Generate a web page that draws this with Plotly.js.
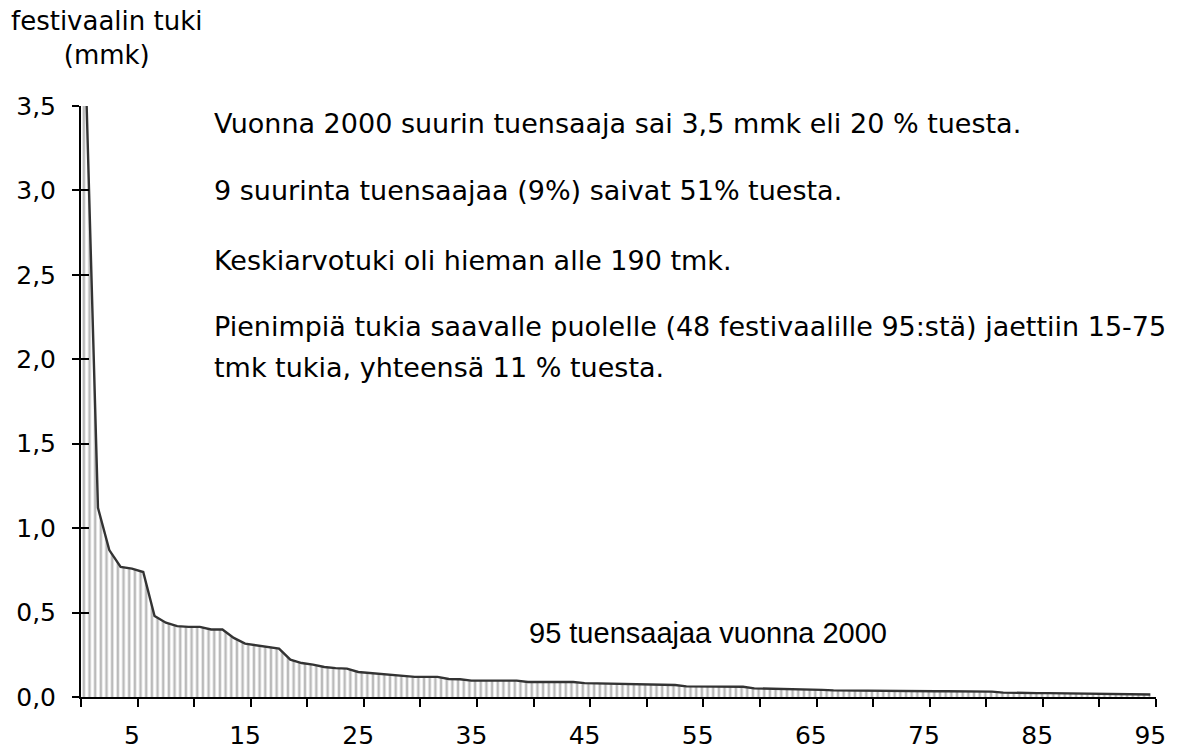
<!DOCTYPE html>
<html>
<head>
<meta charset="utf-8">
<script src="https://cdn.plot.ly/plotly-3.0.1.min.js"></script>
<style>html,body{margin:0;padding:0;background:#fff;}#chart{width:1183px;height:753px;}</style>
</head>
<body>
<div id="chart"></div>
<script>
// festival support in million marks (mmk), ranked 1..95, year 2000
const support = [
  3.50, 1.12, 0.87, 0.77, 0.76, 0.74, 0.48, 0.44, 0.42, 0.415,
  0.415, 0.40, 0.40, 0.35, 0.316, 0.306, 0.296, 0.287, 0.221, 0.201,
  0.192, 0.178, 0.171, 0.168, 0.148, 0.142, 0.139, 0.129, 0.127, 0.119,
  0.119, 0.119, 0.107, 0.105, 0.097, 0.097, 0.097, 0.097, 0.097, 0.089,
  0.089, 0.089, 0.089, 0.089, 0.082, 0.081, 0.080, 0.077, 0.075, 0.074,
  0.073, 0.072, 0.071, 0.063, 0.062, 0.062, 0.061, 0.061, 0.061, 0.051,
  0.050, 0.049, 0.048, 0.047, 0.045, 0.042, 0.039, 0.038, 0.037, 0.037,
  0.036, 0.036, 0.035, 0.035, 0.035, 0.034, 0.034, 0.034, 0.033, 0.033,
  0.032, 0.026, 0.024, 0.023, 0.023, 0.023, 0.022, 0.022, 0.022, 0.021,
  0.021, 0.021, 0.020, 0.019, 0.015
];
const ranks = support.map((v, i) => i + 1);
const xTickVals = [5, 15, 25, 35, 45, 55, 65, 75, 85, 95];
const xTickText = ['5', '15', '25', '35', '45', '55', '65', '75', '85', '95'];
const yTickVals = [0, 0.5, 1.0, 1.5, 2.0, 2.5, 3.0, 3.5];
const notes = [
  'Vuonna 2000 suurin tuensaaja sai 3,5 mmk eli 20 % tuesta.',
  '9 suurinta tuensaajaa (9%) saivat 51% tuesta.',
  'Keskiarvotuki oli hieman alle 190 tmk.',
  'Pienimpiä tukia saavalle puolelle (48 festivaalille 95:stä) jaettiin 15-75',
  'tmk tukia, yhteensä 11 % tuesta.'
];
const yTitle = 'festivaalin tuki<br>(mmk)';
const seriesLabel = '95 tuensaajaa vuonna 2000';

// layout geometry (pixels)
const W = 1183, H = 753, L = 81, R = 27, T = 106, B = 56;
const PW = W - L - R, PH = H - T - B;
const fx = px => (px - L) / PW;
const fy = py => (H - B - py) / PH;

const nCats = support.length;
// boundary ticks between every fifth category
const boundaryTicks = [];
for (let k = 0; k <= nCats; k += 5) boundaryTicks.push(k + 0.5);

const DV = 'DejaVu Sans, Verdana, sans-serif';

const fillTrace = {
  x: [ranks[0] - 0.5].concat(ranks),
  y: [support[0]].concat(support),
  type: 'scatter', mode: 'none', fill: 'tozeroy',
  fillcolor: '#ffffff',
  fillpattern: {shape: '|', fgcolor: '#bababa', bgcolor: '#ffffff', size: 5.67, solidity: 0.45},
  hoverinfo: 'skip', showlegend: false, xaxis: 'x', yaxis: 'y'
};
const lineTrace = {
  x: ranks, y: support, type: 'scatter', mode: 'lines',
  line: {color: '#333333', width: 2.4},
  showlegend: false, xaxis: 'x2', yaxis: 'y2'
};

const annotations = [];
const noteY = [123, 191, 260, 326, 367];
notes.forEach((t, i) => {
  annotations.push({
    text: t, xref: 'paper', yref: 'paper', x: fx(212), y: fy(noteY[i]),
    xanchor: 'left', yanchor: 'middle', align: 'left', showarrow: false,
    font: {family: DV, size: 27, color: '#000'}
  });
});
annotations.push({
  text: yTitle, xref: 'paper', yref: 'paper', x: fx(107), y: fy(38),
  xanchor: 'center', yanchor: 'middle', align: 'center', showarrow: false,
  font: {family: DV, size: 26, color: '#000'}
});
annotations.push({
  text: seriesLabel, xref: 'paper', yref: 'paper', x: fx(708), y: fy(633),
  xanchor: 'center', yanchor: 'middle', showarrow: false,
  font: {family: 'Liberation Sans, Arial, sans-serif', size: 29, color: '#000'}
});

const layout = {
  width: W, height: H,
  margin: {l: L, r: R, t: T, b: B, pad: 0},
  paper_bgcolor: '#ffffff', plot_bgcolor: '#ffffff',
  separators: ', ',
  showlegend: false,
  xaxis: {
    range: [0.5, nCats + 0.5], tickmode: 'array', tickvals: boundaryTicks,
    ticktext: boundaryTicks.map(() => ''), ticks: 'outside', ticklen: 8, tickwidth: 2, tickcolor: '#000',
    showline: true, linecolor: '#000', linewidth: 2, showgrid: false, zeroline: false, fixedrange: true
  },
  xaxis2: {
    overlaying: 'x', range: [0.5, nCats + 0.5], tickmode: 'array', tickvals: xTickVals, ticktext: xTickText,
    ticks: '', showline: false, showgrid: false, zeroline: false, side: 'bottom',
    tickfont: {family: DV, size: 25, color: '#000'}, ticklabelstandoff: 21
  },
  yaxis: {
    range: [0, 3.5], tickmode: 'array', tickvals: yTickVals, tickformat: '.1f',
    ticks: 'outside', ticklen: 7, tickwidth: 2, tickcolor: '#000',
    showline: true, linecolor: '#000', linewidth: 2, showgrid: false, zeroline: false,
    tickfont: {family: DV, size: 25, color: '#000'}, ticklabelstandoff: 11
  },
  yaxis2: {
    overlaying: 'y', range: [0, 3.5], tickmode: 'array', tickvals: yTickVals,
    ticks: 'inside', ticklen: 8, tickwidth: 2, tickcolor: '#000',
    showticklabels: false, showline: false, showgrid: false, zeroline: false
  },
  annotations: annotations
};

Plotly.newPlot('chart', [fillTrace, lineTrace], layout, {displayModeBar: false, staticPlot: true});
</script>
</body>
</html>
